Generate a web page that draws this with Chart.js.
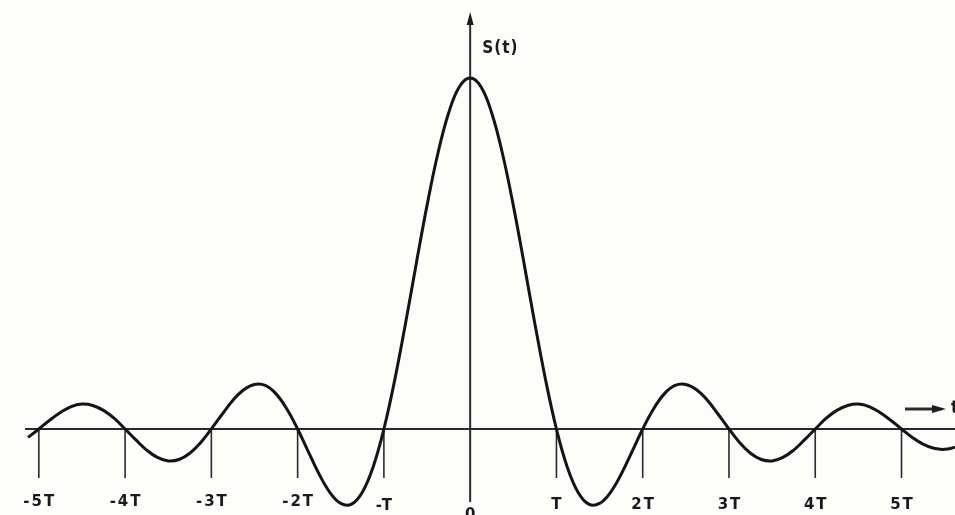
<!DOCTYPE html>
<html>
<head>
<meta charset="utf-8">
<title>S(t)</title>
<script src="https://cdn.jsdelivr.net/npm/chart.js@4/dist/chart.umd.min.js"></script>
<style>
  html, body { margin: 0; padding: 0; background: #fdfdfb; }
  #wrap { width: 955px; height: 515px; position: relative; }
</style>
</head>
<body>
<div id="wrap"><canvas id="plot"></canvas></div>
<script>
// Time, in multiples of T (sampled every T/8)
const tValues = [
  -5.125, -5, -4.875, -4.75, -4.625, -4.5, -4.375, -4.25, -4.125,
  -4, -3.875, -3.75, -3.625, -3.5, -3.375, -3.25, -3.125,
  -3, -2.875, -2.75, -2.625, -2.5, -2.375, -2.25, -2.125,
  -2, -1.875, -1.75, -1.625, -1.5, -1.375, -1.25, -1.125,
  -1, -0.875, -0.75, -0.625, -0.5, -0.375, -0.25, -0.125,
  0, 0.125, 0.25, 0.375, 0.5, 0.625, 0.75, 0.875,
  1, 1.125, 1.25, 1.375, 1.5, 1.625, 1.75, 1.875,
  2, 2.125, 2.25, 2.375, 2.5, 2.625, 2.75, 2.875,
  3, 3.125, 3.25, 3.375, 3.5, 3.625, 3.75, 3.875,
  4, 4.125, 4.25, 4.375, 4.5, 4.625, 4.75, 4.875,
  5, 5.125, 5.25, 5.375, 5.5, 5.625
];
// Signal amplitude S(t), peak normalised to 1
const sValues = [
  -0.024, 0, 0.025, 0.047, 0.064, 0.071, 0.067, 0.053, 0.030,
  0, -0.031, -0.060, -0.081, -0.091, -0.087, -0.069, -0.039,
  0, 0.042, 0.082, 0.112, 0.127, 0.124, 0.100, 0.057,
  0, -0.065, -0.129, -0.181, -0.212, -0.214, -0.180, -0.108,
  0, 0.139, 0.300, 0.471, 0.637, 0.784, 0.900, 0.975,
  1, 0.975, 0.900, 0.784, 0.637, 0.471, 0.300, 0.139,
  0, -0.108, -0.180, -0.214, -0.212, -0.181, -0.129, -0.065,
  0, 0.057, 0.100, 0.124, 0.127, 0.112, 0.082, 0.042,
  0, -0.039, -0.069, -0.087, -0.091, -0.081, -0.060, -0.031,
  0, 0.030, 0.053, 0.067, 0.071, 0.064, 0.047, 0.025,
  0, -0.024, -0.043, -0.055, -0.058, -0.052
];
// Tick positions on the time axis and their labels
const tickValues = [-5, -4, -3, -2, -1, 0, 1, 2, 3, 4, 5];
const tickLabels = ['-5T', '-4T', '-3T', '-2T', '-T', '0', 'T', '2T', '3T', '4T', '5T'];
const yAxisTitle = 'S(t)';
const xAxisTitle = 't';

const INK = '#1a1a1a';
const FAMILY = "'DejaVu Sans', 'Liberation Sans', sans-serif";
const NARROW = "'Liberation Sans Narrow', 'DejaVu Sans Condensed', 'Liberation Sans', sans-serif";

const points = tValues.map((t, i) => ({ x: t, y: sValues[i] }));

// Hand-drawn style axes: crossing lines with arrows, tick marks under the time axis
const axesPlugin = {
  id: 'drawnAxes',
  beforeDraw(chart) {
    const c = chart.ctx;
    c.save();
    c.fillStyle = '#fdfdfb';
    c.fillRect(0, 0, chart.width, chart.height);
    c.restore();
  },
  beforeDatasetsDraw(chart) {
    const c = chart.ctx;
    const xs = chart.scales.x, ys = chart.scales.y;
    const y0 = ys.getPixelForValue(0);
    const x0 = xs.getPixelForValue(0);
    c.save();
    c.strokeStyle = '#2a2a2a';
    c.fillStyle = INK;
    c.lineCap = 'butt';

    // time axis
    c.lineWidth = 2;
    c.beginPath();
    c.moveTo(xs.getPixelForValue(-5.16), y0);
    c.lineTo(chart.width, y0);
    c.stroke();

    // tick marks
    c.lineWidth = 1.6;
    tickValues.forEach(v => {
      if (v === 0) return;
      const px = xs.getPixelForValue(v);
      c.beginPath();
      c.moveTo(px, y0);
      c.lineTo(px, y0 + 49);
      c.stroke();
    });

    // amplitude axis with arrow
    c.lineWidth = 2;
    c.beginPath();
    c.moveTo(x0, 22);
    c.lineTo(x0, 502);
    c.stroke();
    c.beginPath();
    c.moveTo(x0, 12);
    c.lineTo(x0 - 3.5, 25);
    c.lineTo(x0 + 3.5, 25);
    c.closePath();
    c.fill();

    // time direction arrow
    const ay = y0 - 20;
    c.lineWidth = 3;
    c.beginPath();
    c.moveTo(905, ay);
    c.lineTo(934, ay);
    c.stroke();
    c.beginPath();
    c.moveTo(946, ay);
    c.lineTo(932, ay - 4);
    c.lineTo(932, ay + 4);
    c.closePath();
    c.fill();
    c.restore();
  },
  afterDatasetsDraw(chart) {
    const c = chart.ctx;
    const xs = chart.scales.x, ys = chart.scales.y;
    const y0 = ys.getPixelForValue(0);
    const x0 = xs.getPixelForValue(0);
    c.save();
    c.fillStyle = INK;
    c.font = 'bold 15px ' + FAMILY;
    c.letterSpacing = '2px';
    c.textAlign = 'center';
    c.textBaseline = 'middle';
    const drop = { '-T': 4, '0': 13 };
    tickValues.forEach((v, i) => {
      const lab = tickLabels[i];
      const px = xs.getPixelForValue(v);
      c.fillText(lab, px + 1, y0 + 73 + (drop[lab] || 0) + (v > 0 ? 3 : 0));
    });
    c.textAlign = 'left';
    c.letterSpacing = '1px';
    c.font = 'bold 17px ' + NARROW;
    c.fillText(yAxisTitle, x0 + 12, 49);
    c.fillText(xAxisTitle, 951, y0 - 20);
    c.restore();
  }
};

new Chart(document.getElementById('plot'), {
  type: 'line',
  data: {
    datasets: [{
      data: points,
      borderColor: '#141414',
      borderWidth: 3,
      pointRadius: 0,
      tension: 0.4,
      fill: false,
      clip: false
    }]
  },
  options: {
    responsive: true,
    maintainAspectRatio: false,
    devicePixelRatio: 1,
    animation: false,
    layout: { padding: 0 },
    plugins: { legend: { display: false }, tooltip: { enabled: false } },
    scales: {
      x: { type: 'linear', min: -5.45, max: 5.62, display: false },
      y: { type: 'linear', min: -0.245, max: 1.222, display: false }
    }
  },
  plugins: [axesPlugin]
});
</script>
</body>
</html>
